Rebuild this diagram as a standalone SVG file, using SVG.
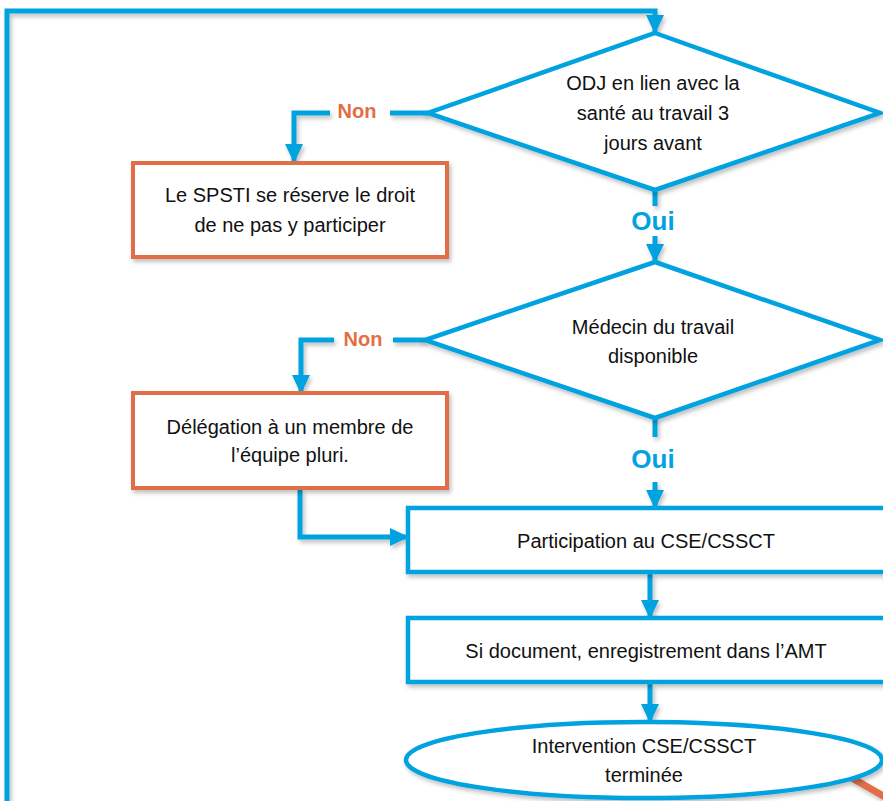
<svg xmlns="http://www.w3.org/2000/svg" width="883" height="801" viewBox="0 0 883 801">
<style>
.b{fill:none;stroke:#00A3E0;stroke-width:5}
.n{fill:#fff;stroke:#00A3E0;stroke-width:4.5}
.o{fill:#fff;stroke:#E26E46;stroke-width:4}
.t{font-family:"Liberation Sans",Arial,sans-serif;font-size:20px;fill:#111;text-anchor:middle}
.non{font-family:"Liberation Sans",Arial,sans-serif;font-size:20px;font-weight:bold;fill:#E26E46;text-anchor:middle}
.oui{font-family:"Liberation Sans",Arial,sans-serif;font-size:26px;font-weight:bold;fill:#00A3E0;text-anchor:middle}
</style>
<defs>
<marker id="ar" markerWidth="20" markerHeight="20" refX="18" refY="10" orient="auto" markerUnits="userSpaceOnUse">
<path d="M0,1 L19,10 L0,19 z" fill="#00A3E0"/>
</marker>
<filter id="sh" x="-5%" y="-5%" width="110%" height="120%">
<feDropShadow dx="2" dy="3" stdDeviation="2" flood-color="#000" flood-opacity="0.25"/>
</filter>
</defs>
<g id="connectors" filter="url(#sh)">
<path class="b" d="M7,801 V11 H655 V33" marker-end="url(#ar)"/>
<path class="b" d="M428,113 H390"/>
<path class="b" d="M330,113 H294 V162" marker-end="url(#ar)"/>
<path class="b" d="M655,190 V206"/>
<path class="b" d="M655,236 V262" marker-end="url(#ar)"/>
<path class="b" d="M425,340 H393"/>
<path class="b" d="M334,340 H301 V393" marker-end="url(#ar)"/>
<path class="b" d="M655,418 V437"/>
<path class="b" d="M655,482 V508" marker-end="url(#ar)"/>
<path class="b" d="M300,490 V537 H408" marker-end="url(#ar)"/>
<path class="b" d="M650,574 V618" marker-end="url(#ar)"/>
<path class="b" d="M650,684 V722" marker-end="url(#ar)"/>
<path d="M852,778 L885,797" fill="none" stroke="#E26E46" stroke-width="7"/>
</g>
<text class="non" x="357" y="118">Non</text>
<text class="oui" x="653" y="230">Oui</text>
<text class="non" x="363" y="346">Non</text>
<text class="oui" x="653" y="468">Oui</text>
<g id="d1" filter="url(#sh)">
<polygon class="n" points="655,33 880,113 655,190 428,113"/>
</g>
<g id="d1t">
<text class="t" x="653" y="90">ODJ en lien avec la</text>
<text class="t" x="653" y="120">santé au travail 3</text>
<text class="t" x="653" y="150">jours avant</text>
</g>
<g id="box1" filter="url(#sh)">
<rect class="o" x="133" y="163" width="314" height="94"/>
</g>
<g id="box1t">
<text class="t" x="290" y="202">Le SPSTI se réserve le droit</text>
<text class="t" x="290" y="232">de ne pas y participer</text>
</g>
<g id="d2" filter="url(#sh)">
<polygon class="n" points="655,262 880,340 655,418 425,340"/>
</g>
<g id="d2t">
<text class="t" x="653" y="334">Médecin du travail</text>
<text class="t" x="653" y="363">disponible</text>
</g>
<g id="box2" filter="url(#sh)">
<rect class="o" x="133" y="393" width="314" height="95"/>
</g>
<g id="box2t">
<text class="t" x="290" y="434">Délégation à un membre de</text>
<text class="t" x="290" y="462">l’équipe pluri.</text>
</g>
<g id="box3" filter="url(#sh)">
<rect class="n" x="408" y="508" width="478" height="64"/>
</g>
<text class="t" x="646" y="548">Participation au CSE/CSSCT</text>
<g id="box4" filter="url(#sh)">
<rect class="n" x="408" y="618" width="478" height="64"/>
</g>
<text class="t" x="646" y="658">Si document, enregistrement dans l’AMT</text>
<g id="end" filter="url(#sh)">
<ellipse class="n" cx="644" cy="760" rx="238" ry="38"/>
</g>
<g id="endt">
<text class="t" x="644" y="753">Intervention CSE/CSSCT</text>
<text class="t" x="644" y="782">terminée</text>
</g>
</svg>
